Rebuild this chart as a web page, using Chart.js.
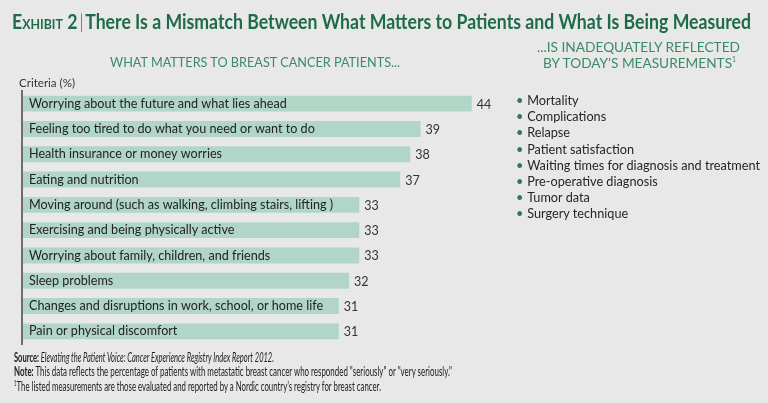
<!DOCTYPE html>
<html>
<head>
<meta charset="utf-8">
<script src="https://cdn.jsdelivr.net/npm/chart.js@4"></script>
<style>
  html, body { margin:0; padding:0; }
  body { width:768px; height:403px; background:#e8e8e9; position:relative; overflow:hidden; font-family:Lato, "Open Sans", sans-serif; }
  #c { position:absolute; left:0; top:0; }
  .t { position:absolute; white-space:nowrap; transform-origin:0 50%; line-height:1; }
  #title { left:12px; top:11px; font-size:20px; font-weight:700; color:#1e6b4a; }
  #title .sc { font-variant:small-caps; }
  #title .bar { font-weight:300; margin:0 2px; }
  .sub { color:#3b8a66; font-size:14px; font-weight:400; }
  #sub1 { left:110px; top:55px; }
  #sub2 { left:537px; top:40px; }
  #sub3 { left:543px; top:56px; }
  #crit { left:19px; top:77px; font-size:11.5px; color:#333; }
  #list { position:absolute; left:516px; top:92px; transform-origin:0 0; }
  #list div { font-size:13.5px; color:#252525; height:16.2px; line-height:16.2px; white-space:nowrap; }
  #list span.b { color:#2c7a57; margin-right:4px; }
  .foot { font-size:12.5px; color:#222; }
  #f1 { left:14px; top:352px; }
  #f2 { left:14px; top:366px; }
  #f3 { left:14px; top:380px; }
</style>
</head>
<body>
<canvas id="c" width="768" height="403"></canvas>
<div class="t" id="title"><span class="sc">Exhibit 2</span><span class="bar">|</span>There Is a Mismatch Between What Matters to Patients and What Is Being Measured</div>
<div class="t sub" id="sub1">WHAT MATTERS TO BREAST CANCER PATIENTS...</div>
<div class="t sub" id="sub2">...IS INADEQUATELY REFLECTED</div>
<div class="t sub" id="sub3">BY TODAY’S MEASUREMENTS<sup style="font-size:7px">1</sup></div>
<div class="t" id="crit">Criteria (%)</div>
<div id="list"></div>
<div class="t foot" id="f1"><b>Source:</b> <i>Elevating the Patient Voice: Cancer Experience Registry Index Report 2012.</i></div>
<div class="t foot" id="f2"><b>Note:</b> This data reflects the percentage of patients with metastatic breast cancer who responded "seriously" or "very seriously."</div>
<div class="t foot" id="f3"><sup style="font-size:7px">1</sup>The listed measurements are those evaluated and reported by a Nordic country’s registry for breast cancer.</div>
<script>
const categories = [
  "Worrying about the future and what lies ahead",
  "Feeling too tired to do what you need or want to do",
  "Health insurance or money worries",
  "Eating and nutrition",
  "Moving around (such as walking, climbing stairs, lifting )",
  "Exercising and being physically active",
  "Worrying about family, children, and friends",
  "Sleep problems",
  "Changes and disruptions in work, school, or home life",
  "Pain or physical discomfort"
];
const values = [44, 39, 38, 37, 33, 33, 33, 32, 31, 31];
const measurements = [
  "Mortality",
  "Complications",
  "Relapse",
  "Patient satisfaction",
  "Waiting times for diagnosis and treatment",
  "Pre-operative diagnosis",
  "Tumor data",
  "Surgery technique"
];

// list
const listEl = document.getElementById('list');
measurements.forEach(m => {
  const d = document.createElement('div');
  d.innerHTML = '<span class="b">•</span>' + m;
  listEl.appendChild(d);
});

// fit text widths
function fit(id, w) {
  const el = document.getElementById(id);
  const r = el.getBoundingClientRect().width;
  el.style.transform = 'scaleX(' + (w / r) + ')';
}
fit('title', 739);
fit('sub1', 290);
fit('sub2', 203);
fit('sub3', 193);
fit('crit', 56);
fit('f1', 260);
fit('f2', 438);
fit('f3', 367);
(function(){
  let maxW = 0;
  listEl.querySelectorAll('div').forEach(d => {
    const s = document.createElement('span'); s.style.whiteSpace='nowrap'; s.innerHTML = d.innerHTML;
    d.innerHTML=''; d.appendChild(s);
    maxW = Math.max(maxW, s.getBoundingClientRect().width);
  });
  listEl.style.transform = 'scaleX(' + (244 / maxW) + ')';
})();

// tick font size
const mctx = document.createElement('canvas').getContext('2d');
mctx.font = '400 100px Lato';
const tickSize = 100 * 258 / mctx.measureText(categories[0]).width;

const valueLabels = {
  id: 'valueLabels',
  afterDatasetsDraw(chart) {
    const ctx = chart.ctx;
    const meta = chart.getDatasetMeta(0);
    ctx.save();
    ctx.font = '400 12.5px Lato';
    ctx.fillStyle = '#333';
    ctx.textBaseline = 'middle';
    ctx.textAlign = 'left';
    meta.data.forEach((bar, i) => {
      ctx.fillText(String(values[i]), bar.x + 5, bar.y + 1);
    });
    ctx.restore();
  }
};

new Chart(document.getElementById('c'), {
  type: 'bar',
  data: {
    labels: categories,
    datasets: [{
      data: values,
      backgroundColor: '#b1d6c8',
      borderWidth: 0,
      categoryPercentage: 1,
      barPercentage: 0.63
    }]
  },
  options: {
    indexAxis: 'y',
    responsive: false,
    animation: false,
    events: [],
    layout: { padding: { left: 8, right: 235, top: 91, bottom: 59 } },
    plugins: { legend: { display: false }, tooltip: { enabled: false } },
    scales: {
      x: { display: false, min: 0, max: 50 },
      y: {
        display: true,
        grid: { display: false, drawTicks: false },
        border: { display: true, color: '#6e6e6e', width: 2, z: 1 },
        ticks: {
          mirror: true,
          z: 1,
          padding: 7,
          color: '#222',
          font: { family: 'Lato', size: tickSize }
        }
      }
    }
  },
  plugins: [valueLabels]
});
</script>
</body>
</html>
